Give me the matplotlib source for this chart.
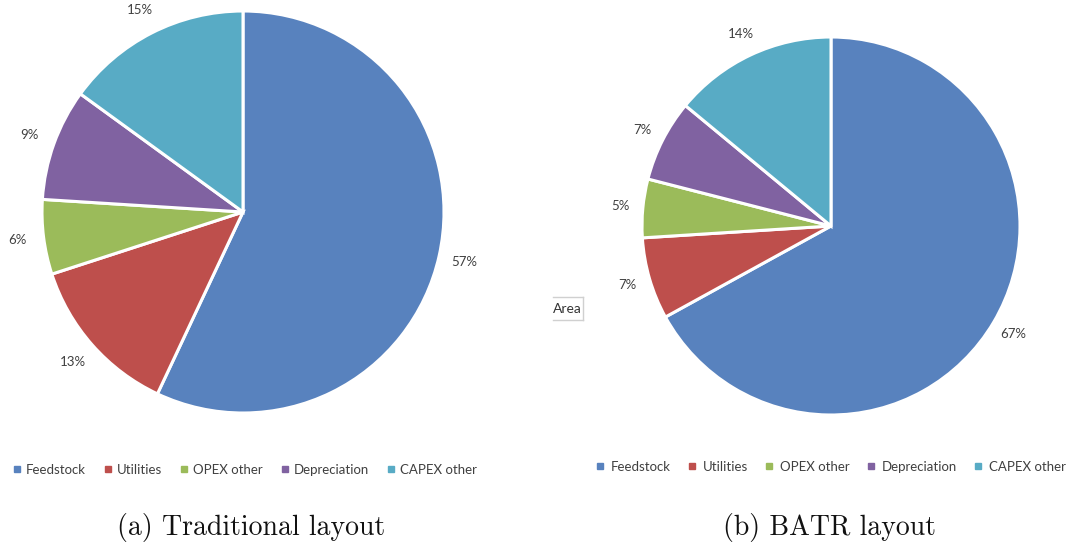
import matplotlib
matplotlib.use("Agg")
import matplotlib.pyplot as plt
from matplotlib.lines import Line2D
import numpy as np

categories = ["Feedstock", "Utilities", "OPEX other", "Depreciation", "CAPEX other"]
traditional_pct = [57, 13, 6, 9, 15]
batr_pct = [67, 7, 5, 7, 14]
captions = ["(a) Traditional layout", "(b) BATR layout"]

colors = ["#5882BE", "#BE4F4C", "#9BBB5A", "#8062A1", "#58ABC5"]
label_color = "#404040"
W, H = 1068, 546

fig = plt.figure(figsize=(W / 100, H / 100), dpi=100)
fig.patch.set_facecolor("white")


def px_axes(cx, cy, r):
    # axes box in figure fractions from a pixel centre/radius (y measured from top)
    return fig.add_axes([(cx - r) / W, (H - cy - r) / H, 2 * r / W, 2 * r / H])


def draw_pie(ax, values, label_dist):
    wedges, _ = ax.pie(values, colors=colors, startangle=90, counterclock=False,
                       wedgeprops=dict(edgecolor="white", linewidth=2.2))
    ax.set_xlim(-1, 1)
    ax.set_ylim(-1, 1)
    ax.set_aspect("equal")
    ax.axis("off")
    for w, v in zip(wedges, values):
        ang = np.deg2rad(0.5 * (w.theta1 + w.theta2))
        ax.text(label_dist * np.cos(ang), label_dist * np.sin(ang), f"{v}%",
                ha="center", va="center", fontsize=9.5, family="Lato",
                color=label_color, clip_on=False)


ax1 = px_axes(243, 212, 201)
draw_pie(ax1, traditional_pct, 1.13)
ax2 = px_axes(831, 226, 189)
draw_pie(ax2, batr_pct, 1.12)

handles = [Line2D([0], [0], marker="s", linestyle="none", markersize=4,
                  markerfacecolor=c, markeredgecolor=c) for c in colors]
for cx, cy, pad, spacing in [(245, 470, 0.35, 1.4), (831, 467, 0.55, 1.28)]:
    fig.legend(handles, categories, loc="center", bbox_to_anchor=(cx / W, 1 - cy / H),
               ncol=5, frameon=False, handlelength=0.6, handletextpad=pad,
               columnspacing=spacing, borderpad=0, borderaxespad=0,
               prop=dict(family="Lato", size=9.5), labelcolor=label_color)

for text, cx in zip(captions, [251, 829]):
    fig.text(cx / W, 1 - 527 / H, text, ha="center", va="center",
             fontsize=20, family="cmr10", color="#111111")

# small hover tooltip box left over in the right panel
x0, x1, y0, y1 = 553, 583, 297, 320
for xs, ys in [([x0, x1], [y0, y0]), ([x1, x1], [y0, y1]), ([x0, x1], [y1, y1])]:
    fig.add_artist(Line2D([x / W for x in xs], [1 - y / H for y in ys],
                          color="#d0d0d0", linewidth=1))
fig.text(553 / W, 1 - 309 / H, "Area", ha="left", va="center", fontsize=10,
         family="Lato", color="#333333")

fig.savefig("out.png", dpi=100, facecolor="white")
